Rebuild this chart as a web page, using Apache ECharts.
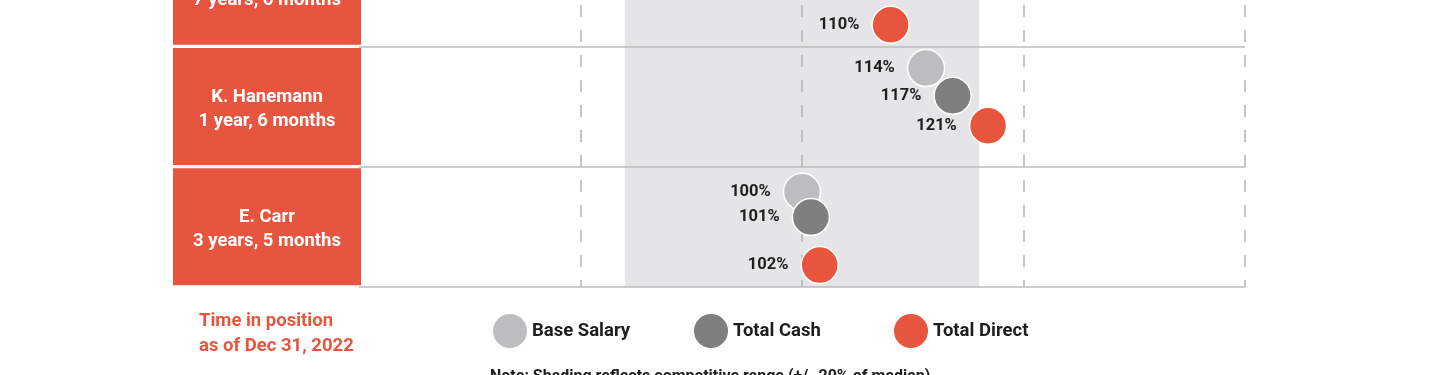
<!DOCTYPE html>
<html><head><meta charset="utf-8">
<script src="https://cdn.jsdelivr.net/npm/echarts@6/dist/echarts.min.js"></script>
<style>html,body{margin:0;padding:0;background:#fff;overflow:hidden;width:1440px;height:375px;position:relative}#c{position:absolute;left:0;top:-74px;width:1440px;height:449px;}</style>
</head><body><div id="c"></div>
<script>
// ---- data ----
const rowNames = ['', 'K. Hanemann', 'E. Carr'];
const tenures = ['7 years, 6 months', '1 year, 6 months', '3 years, 5 months'];
const seriesNames = ['Base Salary', 'Total Cash', 'Total Direct'];
const baseSalary = [null, 114, 100];
const totalCash = [null, 117, 101];
const totalDirect = [110, 121, 102];
// vertical value of each marker inside its row band (0 = top of band, 1 = bottom)
const baseRowPos = [null, 0.18, 0.21];
const cashRowPos = [null, 0.41, 0.42];
const directRowPos = [0.82, 0.66, 0.82];
const xTicks = [50, 75, 100, 125, 150];
const competitiveRange = [80, 120];
const titleText = 'Time in position\nas of Dec 31, 2022';
const noteText = 'Note: Shading reflects competitive range (+/- 20% of median)';

// ---- styles ----
const RED = '#e8553e';
const F = "Roboto,'Liberation Sans',Arial,sans-serif";
const colors = ['#bdbdbf', '#7f7f80', RED];
const SHIFT = 74;

function mk(i, vals, pos) {
  return {
    name: seriesNames[i], type: 'scatter', xAxisIndex: 0, yAxisIndex: 0,
    symbol: 'circle', symbolSize: 37, z: 3,
    itemStyle: { color: colors[i], borderColor: '#fff', borderWidth: 1.5, opacity: 1 },
    label: { show: true, position: 'left', distance: 12, formatter: p => p.value[0] + '%',
      fontFamily: F, fontSize: 16.5, fontWeight: 'bold', color: '#1e1e1e' },
    emphasis: { disabled: true },
    data: vals.map((v, r) => v == null ? null : [v, r + pos[r]]).filter(d => d)
  };
}

const series = [mk(0, baseSalary, baseRowPos), mk(1, totalCash, cashRowPos), mk(2, totalDirect, directRowPos)];
series[0].markArea = {
  silent: true, z: 1,
  itemStyle: { color: '#e5e5e7' },
  data: [[{ xAxis: competitiveRange[0] }, { xAxis: competitiveRange[1] }]]
};

const legendLefts = [491, 692, 892];
const legends = seriesNames.map((n, i) => ({
  left: legendLefts[i], top: 312 + SHIFT, padding: 0, itemWidth: 36, itemHeight: 36, itemGap: 5,
  selectedMode: false, icon: 'circle', data: [n],
  textStyle: { fontFamily: F, fontSize: 18.5, fontWeight: 'bold', color: '#1e1e1e', padding: [2, 0, 0, -1] }
}));

const chart = echarts.init(document.getElementById('c'), null, { renderer: 'canvas' });
chart.setOption({
  animation: false,
  backgroundColor: '#fff',
  title: [
    { text: titleText, left: 199, top: 309 + SHIFT, padding: 0,
      textStyle: { color: RED, fontFamily: F, fontSize: 18.5, fontWeight: 'bold', lineHeight: 25 } },
    { text: noteText, left: 490, top: 369 + SHIFT, padding: 0,
      textStyle: { color: '#1e1e1e', fontFamily: F, fontSize: 16, fontWeight: 'bold' } }
  ],
  legend: legends,
  grid: { left: 359, right: 195, top: 0.3, height: 360.4 },
  xAxis: {
    type: 'value', min: xTicks[0], max: xTicks[xTicks.length - 1], interval: xTicks[1] - xTicks[0], z: 1.5,
    axisLine: { show: true, lineStyle: { color: '#bbb', width: 1.5 } },
    axisTick: { show: false }, axisLabel: { show: false },
    splitLine: { show: true, showMinLine: false,
      lineStyle: { color: '#b3b3b3', width: 1.5, type: [12, 13], dashOffset: 21.3 } }
  },
  yAxis: [
    { type: 'value', min: 0, max: rowNames.length, inverse: true, show: false },
    { type: 'category', data: rowNames, inverse: true, position: 'left', z: 1.5,
      axisLine: { show: false }, axisTick: { show: false },
      splitLine: { show: true, lineStyle: { color: '#bbb', width: 1.5 } },
      axisLabel: {
        margin: -2, backgroundColor: RED, width: 188, padding: [37, 0, 32, 0], lineHeight: 24,
        formatter: (v, i) => '{n|' + (v || ' ') + '}\n{t|' + tenures[i] + '}',
        rich: {
          n: { color: '#fff', fontFamily: F, fontSize: 18.5, fontWeight: 'bold', lineHeight: 24, align: 'center' },
          t: { color: '#fff', fontFamily: F, fontSize: 18.5, fontWeight: 'bold', lineHeight: 24, align: 'center' }
        }
      }
    }
  ],
  series: series
});
</script>
</body></html>
